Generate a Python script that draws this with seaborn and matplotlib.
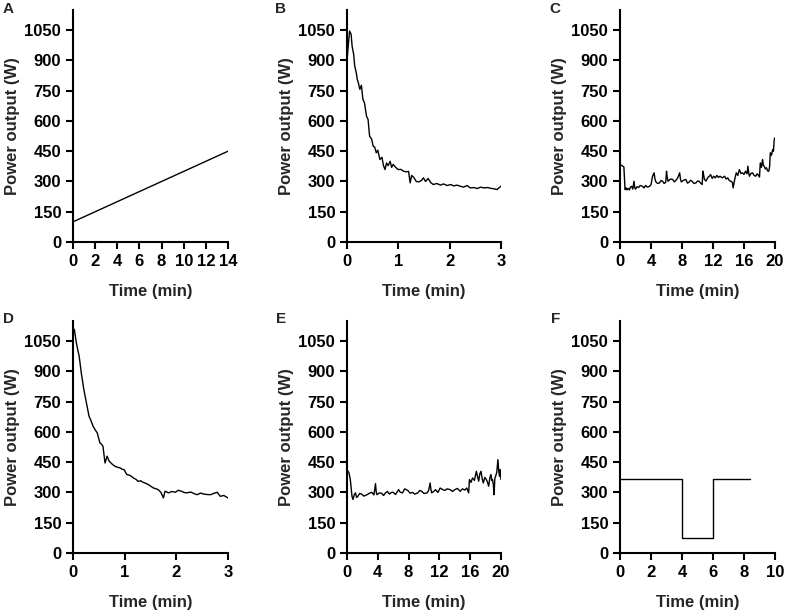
import numpy as np
import pandas as pd
import seaborn as sns
import matplotlib.pyplot as plt

# ---- data (time in min, power in W) ----
time_a = [0, 14]
power_a = [100, 450]

time_b = [0.0, 0.02, 0.05, 0.08, 0.10, 0.13, 0.15, 0.18, 0.20, 0.22, 0.25, 0.28, 0.31, 0.34,
          0.38, 0.41, 0.44, 0.48, 0.51, 0.54, 0.57, 0.60, 0.64, 0.68, 0.71, 0.74, 0.77, 0.80,
          0.84, 0.87, 0.90, 0.94, 0.97, 1.00, 1.05, 1.10, 1.15, 1.20, 1.23, 1.26, 1.30, 1.35,
          1.40, 1.45, 1.49, 1.53, 1.58, 1.63, 1.68, 1.75, 1.82, 1.88, 1.95, 2.02, 2.08, 2.14,
          2.20, 2.27, 2.34, 2.40, 2.47, 2.54, 2.60, 2.67, 2.74, 2.80, 2.86, 2.92, 2.96, 3.0]
power_b = [900, 960, 1046, 1030, 970, 930, 873, 840, 806, 790, 757, 777, 707, 690,
           624, 608, 525, 510, 475, 470, 442, 455, 409, 420, 380, 359, 392, 378,
           400, 370, 385, 372, 365, 359, 360, 351, 348, 350, 293, 330, 320, 300,
           298, 305, 318, 300, 315, 295, 285, 290, 282, 288, 280, 285, 278, 282,
           277, 272, 280, 268, 270, 265, 272, 268, 270, 266, 264, 260, 268, 277]

time_c = [0.0, 0.2, 0.34, 0.5, 0.65, 0.8, 0.9, 1.05, 1.2, 1.35, 1.5, 1.65, 1.8, 1.9, 2.0,
          2.2, 2.4, 2.6, 2.9, 3.1, 3.3, 3.55, 3.8, 4.0, 4.2, 4.4, 4.5, 4.6, 4.85, 5.1, 5.3,
          5.5, 5.7, 5.9, 6.0, 6.1, 6.2, 6.5, 6.8, 7.0, 7.2, 7.45, 7.7, 7.8, 7.9, 8.2, 8.5,
          8.7, 8.9, 9.1, 9.3, 9.55, 9.8, 10.0, 10.2, 10.4, 10.6, 10.7, 10.8, 10.9, 11.1,
          11.3, 11.5, 11.7, 11.9, 12.1, 12.3, 12.5, 12.7, 12.9, 13.2, 13.5, 13.7, 13.9,
          14.1, 14.3, 14.5, 14.6, 14.8, 15.0, 15.2, 15.4, 15.6, 15.8, 16.0, 16.2, 16.4,
          16.5, 16.6, 16.7, 16.9, 17.1, 17.3, 17.5, 17.7, 17.8, 18.0, 18.1, 18.25, 18.4,
          18.5, 18.6, 18.75, 18.9, 19.05, 19.2, 19.3, 19.4, 19.55, 19.7, 19.8, 19.9, 20.0]
power_c = [384, 380, 376, 372, 260, 268, 258, 266, 258, 272, 276, 262, 301, 270, 262,
           274, 270, 280, 276, 268, 280, 272, 276, 284, 326, 343, 315, 300, 290, 293, 305,
           301, 290, 296, 351, 320, 301, 312, 310, 298, 305, 318, 343, 312, 298, 306, 310,
           292, 296, 306, 301, 290, 293, 302, 301, 292, 285, 351, 330, 310, 302,
           318, 325, 334, 315, 326, 318, 330, 320, 326, 318, 326, 312, 318,
           305, 301, 296, 268, 310, 343, 330, 359, 340, 343, 335, 351, 338,
           376, 345, 326, 340, 343, 330, 326, 338, 334, 322, 392, 370, 409,
           380, 376, 362, 368, 352, 351, 372, 442, 430, 459, 450, 508, 517]

time_e = [0.0, 0.26, 0.43, 0.65, 0.78, 0.95, 1.1, 1.25, 1.4, 1.65, 1.9, 2.2, 2.6, 2.9,
          3.2, 3.5, 3.7, 3.8, 3.9, 4.2, 4.5, 4.75, 5.0, 5.25, 5.5, 5.75, 6.0, 6.3, 6.7,
          6.9, 7.2, 7.5, 7.9, 8.2, 8.5, 8.8, 9.2, 9.45, 9.7, 10.0, 10.4, 10.6, 10.8, 10.9,
          11.0, 11.25, 11.5, 11.8, 12.1, 12.4, 12.7, 13.0, 13.4, 13.7, 14.0, 14.35, 14.7,
          15.0, 15.3, 15.55, 15.8, 15.9, 16.1, 16.3, 16.55, 16.8, 16.95, 17.1, 17.25, 17.4,
          17.55, 17.7, 17.9, 18.1, 18.25, 18.4, 18.55, 18.7, 18.8, 18.9, 19.0, 19.1, 19.2,
          19.3, 19.45, 19.6, 19.7, 19.8, 19.9, 20.0]
power_e = [413, 397, 364, 281, 265, 290, 298, 275, 281, 295, 292, 282, 289, 296,
           301, 288, 344, 300, 289, 298, 296, 285, 298, 305, 292, 300, 301, 290, 314,
           302, 298, 318, 310, 296, 301, 292, 298, 310, 306, 295, 298, 310, 347, 315,
           298, 305, 314, 300, 322, 315, 310, 318, 314, 305, 314, 320, 306,
           318, 312, 322, 298, 364, 350, 372, 360, 405, 380, 356, 392, 405,
           370, 347, 375, 364, 350, 331, 372, 389, 360, 364, 340, 289, 370,
           380, 400, 463, 410, 380, 413, 364]

time_d = [0.0, 0.026, 0.065, 0.09, 0.12, 0.16, 0.21, 0.26, 0.31, 0.34, 0.39, 0.43, 0.47, 0.52,
          0.55, 0.58, 0.62, 0.66, 0.70, 0.76, 0.81, 0.86, 0.91, 0.95, 0.99, 1.04, 1.10, 1.17,
          1.22, 1.26, 1.31, 1.36, 1.41, 1.46, 1.51, 1.56, 1.61, 1.65, 1.70, 1.75, 1.78, 1.85,
          1.91, 1.98, 2.04, 2.10, 2.15, 2.20, 2.28, 2.34, 2.40, 2.47, 2.53, 2.59, 2.66, 2.72,
          2.79, 2.85, 2.92, 3.0]
power_d = [1110, 1108, 1042, 1010, 975, 893, 810, 744, 678, 661, 628, 610, 595, 546,
           540, 529, 446, 480, 455, 440, 430, 425, 422, 415, 413, 389, 385, 372,
           365, 355, 358, 350, 345, 339, 330, 322, 318, 314, 301, 273, 306, 298,
           305, 301, 311, 306, 300, 298, 302, 295, 289, 297, 292, 290, 289, 295,
           301, 281, 285, 273]

time_f = [0, 4, 4, 6, 6, 8.4]
power_f = [365, 365, 72, 72, 365, 365]

panels = [
    ('A', time_a, power_a, 14, [0, 2, 4, 6, 8, 10, 12, 14]),
    ('B', time_b, power_b, 3, [0, 1, 2, 3]),
    ('C', time_c, power_c, 20, [0, 4, 8, 12, 16, 20]),
    ('D', time_d, power_d, 3, [0, 1, 2, 3]),
    ('E', time_e, power_e, 20, [0, 4, 8, 12, 16, 20]),
    ('F', time_f, power_f, 10, [0, 2, 4, 6, 8, 10]),
]
y_ticks = [0, 150, 300, 450, 600, 750, 900, 1050]

sns.set_style('ticks')
plt.rcParams['font.family'] = ['Liberation Sans', 'DejaVu Sans']

fig = plt.figure(figsize=(7.87, 6.16), dpi=100)

# axes placement in pixels: (left, right) per column, (bottom, top) per row
cols = [(73, 228), (347, 501), (620, 775)]
rows = [(242, 10), (553, 321)]
letter_pos = [(8, 9), (281, 9), (555, 9), (8, 319), (281, 319), (556, 319)]
W, H = 787, 616

for i, (letter, t, p, xmax, xt) in enumerate(panels):
    l, r = cols[i % 3]
    b, tp = rows[i // 3]
    ax = fig.add_axes([l / W, 1 - b / H, (r - l) / W, (b - tp) / H])
    df = pd.DataFrame({'Time': t, 'Power': p})
    sns.lineplot(data=df, x='Time', y='Power', ax=ax, color='black', lw=1.0,
                 estimator=None, sort=False)
    ax.set_xlim(0, xmax)
    ax.set_ylim(0, 1150)
    ax.set_xticks(xt)
    ax.set_yticks(y_ticks)
    ax.set_xlabel('Time (min)', fontsize=12, fontweight='bold', labelpad=11)
    ax.set_ylabel('Power output (W)', fontsize=12, fontweight='bold', labelpad=3)
    ax.tick_params(labelsize=12, width=1.5, length=5, color='black', labelcolor='black')
    plt.setp(ax.get_xticklabels() + ax.get_yticklabels(), fontweight='bold')
    for s in ['left', 'bottom']:
        ax.spines[s].set_linewidth(1.5)
        ax.spines[s].set_color('black')
    sns.despine(ax=ax)
    fig.text(letter_pos[i][0] / W, 1 - letter_pos[i][1] / H, letter,
             fontsize=11, fontweight='bold', ha='center', va='center')

fig.savefig('out.png', dpi=100)
